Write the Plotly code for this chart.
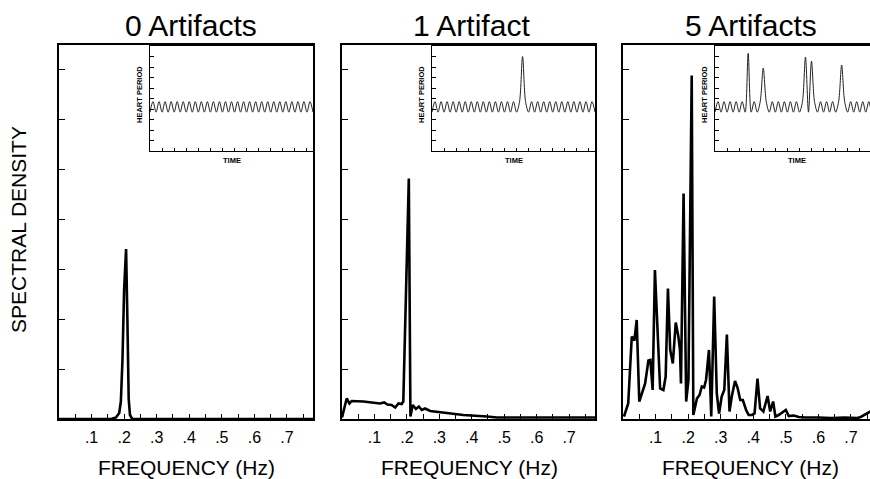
import plotly.graph_objects as go

W, H = 870, 479

# ---------------- data ----------------
freq_0 = [0.0, 0.16, 0.175, 0.185, 0.19, 0.195, 0.2, 0.206, 0.21, 0.214, 0.218, 0.225, 0.78]
dens_0 = [0.0, 0.0, 0.03, 0.12, 0.35, 1.2, 2.6, 3.4, 2.0, 0.4, 0.08, 0.0, 0.0]

freq_1 = [0.0, 0.0145, 0.023, 0.03, 0.066, 0.117, 0.13, 0.14, 0.153, 0.164, 0.174, 0.184, 0.189,
          0.206, 0.211, 0.218, 0.228, 0.237, 0.246, 0.256, 0.272, 0.374, 0.447, 0.478, 0.78]
dens_1 = [0.03, 0.41, 0.31, 0.36, 0.35, 0.31, 0.33, 0.29, 0.28, 0.23, 0.31, 0.30, 0.35,
          4.81, 0.05, 0.28, 0.20, 0.25, 0.18, 0.21, 0.16, 0.08, 0.05, 0.03, 0.03]

freq_5 = [0.003, 0.016, 0.027, 0.035, 0.042, 0.05, 0.068, 0.078, 0.084, 0.091,
          0.098, 0.114, 0.124, 0.131, 0.138, 0.145, 0.153, 0.162, 0.170, 0.175,
          0.178, 0.186, 0.194, 0.201, 0.211, 0.216, 0.227, 0.235, 0.242, 0.249,
          0.255, 0.264, 0.271, 0.280, 0.288, 0.295, 0.303, 0.311, 0.319, 0.327,
          0.334, 0.344, 0.352, 0.360, 0.368, 0.378, 0.386, 0.396, 0.404, 0.413,
          0.421, 0.431, 0.444, 0.452, 0.461, 0.468, 0.478, 0.5, 0.509, 0.524,
          0.54, 0.56, 0.6, 0.64, 0.68, 0.72, 0.73, 0.75, 0.76]
dens_5 = [0.05, 0.31, 1.65, 1.57, 1.98, 0.35, 0.71, 1.17, 1.18, 0.58,
          2.98, 0.61, 0.58, 0.85, 2.61, 1.38, 1.11, 1.93, 1.65, 1.38,
          0.71, 4.51, 0.35, 0.78, 6.87, 0.08, 0.41, 0.48, 0.65, 0.63,
          0.78, 1.38, 0.05, 2.45, 0.51, 0.11, 0.45, 0.58, 1.69, 0.15,
          0.45, 0.76, 0.62, 0.38, 0.38, 0.18, 0.08, 0.08, 0.11, 0.81,
          0.21, 0.15, 0.46, 0.15, 0.35, 0.05, 0.08, 0.18, 0.06, 0.07,
          0.04, 0.03, 0.03, 0.02, 0.03, 0.02, 0.04, 0.11, 0.15]

# inset heart-period series (time in half-cycles of respiration)
hp_time = list(range(55))
hp_none = [3.7, 4.7, 3.7, 4.7, 3.7, 4.7, 3.7, 4.7, 3.7, 4.7,
           3.7, 4.7, 3.7, 4.7, 3.7, 4.7, 3.7, 4.7, 3.7, 4.7,
           3.7, 4.7, 3.7, 4.7, 3.7, 4.7, 3.7, 4.7, 3.7, 4.7,
           3.7, 4.7, 3.7, 4.7, 3.7, 4.7, 3.7, 4.7, 3.7, 4.7,
           3.7, 4.7, 3.7, 4.7, 3.7, 4.7, 3.7, 4.7, 3.7, 4.7,
           3.7, 4.7, 3.7, 4.7, 3.7]
hp_one = [3.7, 4.7, 3.7, 4.7, 3.7, 4.7, 3.7, 4.7, 3.7, 4.7,
          3.7, 4.7, 3.7, 4.7, 3.7, 4.7, 3.7, 4.7, 3.7, 4.7,
          3.7, 4.7, 3.7, 4.7, 3.7, 4.7, 3.7, 4.7, 3.7, 4.7,
          9.0, 4.7, 3.7, 4.7, 3.7, 4.7, 3.7, 4.7, 3.7, 4.7,
          3.7, 4.7, 3.7, 4.7, 3.7, 4.7, 3.7, 4.7, 3.7, 4.7,
          3.7, 4.7, 3.7, 4.7, 3.7]
hp_five = [3.7, 4.7, 3.7, 4.7, 3.7, 4.7, 3.7, 4.7, 3.7, 4.7,
           3.7, 9.3, 3.7, 4.7, 3.7, 4.7, 7.9, 4.7, 3.7, 4.7,
           3.7, 4.7, 3.7, 4.7, 3.7, 4.7, 3.7, 4.7, 3.7, 4.7,
           8.95, 3.7, 8.57, 4.7, 3.7, 4.7, 3.7, 4.7, 3.7, 4.7,
           3.7, 4.7, 8.19, 4.7, 3.7, 4.7, 3.7, 4.7, 3.7, 4.7,
           3.7, 4.7, 3.7, 4.7, 3.7]

titles = ["0 Artifacts", "1 Artifact", "5 Artifacts"]
tick_vals = [0.1, 0.2, 0.3, 0.4, 0.5, 0.6, 0.7]
tick_text = [".1", ".2", ".3", ".4", ".5", ".6", ".7"]
y_ticks = [1, 2, 3, 4, 5, 6, 7]
inset_y_ticks = [1, 2, 3, 4, 5, 6, 7, 8, 9]
x_label = "FREQUENCY (Hz)"
y_label = "SPECTRAL DENSITY"
inset_y_label = "HEART PERIOD"
inset_x_label = "TIME"

# ---------------- layout helpers ----------------
def fx(p):
    return p / W

def fy(p):
    return 1 - p / H

FONT = "Liberation Sans, Arial, Helvetica, sans-serif"

panels = [
    dict(f=freq_0, d=dens_0, hp=hp_none, x0=59, x1=313, xr=0.78, ix0=150, ixr=54, tx=191, right=True),
    dict(f=freq_1, d=dens_1, hp=hp_one, x0=342, x1=595, xr=0.78, ix0=432, ixr=54, tx=471, right=True),
    dict(f=freq_5, d=dens_5, hp=hp_five, x0=623, x1=870, xr=0.7585, ix0=715, ixr=51.4, tx=751, right=False),
]

fig = go.Figure()
layout = dict(
    width=W, height=H,
    margin=dict(l=0, r=0, t=0, b=0),
    paper_bgcolor="white", plot_bgcolor="rgba(0,0,0,0)",
    showlegend=False,
    font=dict(family=FONT, color="black"),
)
annotations = []

for i, p in enumerate(panels):
    m = i + 1          # main axes index
    n = i + 4          # inset axes index
    mx = "x" if m == 1 else f"x{m}"
    my = "y" if m == 1 else f"y{m}"
    ix, iy = f"x{n}", f"y{n}"

    fig.add_trace(go.Scatter(x=p["f"], y=p["d"], mode="lines",
                             line=dict(color="black", width=2.6),
                             xaxis=mx, yaxis=my, hoverinfo="skip"))
    fig.add_trace(go.Scatter(x=hp_time, y=p["hp"], mode="lines",
                             line=dict(color="#222", width=1, shape="spline", smoothing=0.9),
                             xaxis=ix, yaxis=iy, hoverinfo="skip"))

    xa = "xaxis" if m == 1 else f"xaxis{m}"
    ya = "yaxis" if m == 1 else f"yaxis{m}"
    layout[xa] = dict(
        domain=[fx(p["x0"]), fx(p["x1"])], range=[0, p["xr"]], anchor=my,
        showline=True, linecolor="black", linewidth=1.6, mirror=True,
        ticks="inside", tickvals=tick_vals, ticktext=tick_text,
        ticklen=5, tickwidth=1, tickcolor="black",
        minor=dict(dtick=0.05, tick0=0, ticks="inside", ticklen=5, tickwidth=1, tickcolor="black"),
        tickfont=dict(size=16, family=FONT, color="black"),
        ticklabelstandoff=3,
        showgrid=False, zeroline=False, fixedrange=True,
    )
    layout[ya] = dict(
        domain=[fy(419), fy(45)], range=[0, 7.48], anchor=mx,
        showline=True, linecolor="black", linewidth=1.6, mirror=p["right"],
        ticks="inside", tickvals=y_ticks, ticklen=6, tickwidth=1, tickcolor="black",
        showticklabels=False, showgrid=False, zeroline=False, fixedrange=True,
    )
    layout[f"xaxis{n}"] = dict(
        domain=[fx(p["ix0"]), fx(p["x1"])], range=[0, p["ixr"]], anchor=iy,
        showline=True, linecolor="black", linewidth=1.4, mirror=True,
        ticks="inside", dtick=4, tick0=0, ticklen=3, tickwidth=1, tickcolor="black",
        showticklabels=False, showgrid=False, zeroline=False, fixedrange=True,
    )
    layout[f"yaxis{n}"] = dict(
        domain=[fy(151), fy(46)], range=[0, 10], anchor=ix,
        showline=True, linecolor="black", linewidth=1.4, mirror=p["right"],
        ticks="inside", tickvals=inset_y_ticks, ticklen=4, tickwidth=1, tickcolor="black",
        showticklabels=False, showgrid=False, zeroline=False, fixedrange=True,
    )

    # panel title
    annotations.append(dict(text=titles[i], x=fx(p["tx"]), y=fy(25), xref="paper", yref="paper",
                            xanchor="center", yanchor="middle", showarrow=False,
                            font=dict(size=30, family=FONT, color="black")))
    # x axis title
    annotations.append(dict(text=x_label, x=fx((p["x0"] + p["x0"] + 254) / 2), y=fy(467),
                            xref="paper", yref="paper", xanchor="center", yanchor="middle",
                            showarrow=False, font=dict(size=21, family=FONT, color="black")))
    # inset labels
    annotations.append(dict(text="<b>" + inset_y_label + "</b>", x=fx(p["ix0"] - 10), y=fy(95),
                            xref="paper", yref="paper", xanchor="center", yanchor="middle",
                            textangle=-90, showarrow=False,
                            font=dict(size=7.5, family=FONT, color="black")))
    annotations.append(dict(text="<b>" + inset_x_label + "</b>", x=fx((p["ix0"] + p["ix0"] + 163) / 2),
                            y=fy(160), xref="paper", yref="paper", xanchor="center", yanchor="middle",
                            showarrow=False, font=dict(size=7.5, family=FONT, color="black")))

annotations.append(dict(text=y_label, x=fx(19), y=fy(230), xref="paper", yref="paper",
                        xanchor="center", yanchor="middle", textangle=-90, showarrow=False,
                        font=dict(size=21, family=FONT, color="black")))
layout["annotations"] = annotations
fig.update_layout(**layout)

fig.write_html("out.html")
